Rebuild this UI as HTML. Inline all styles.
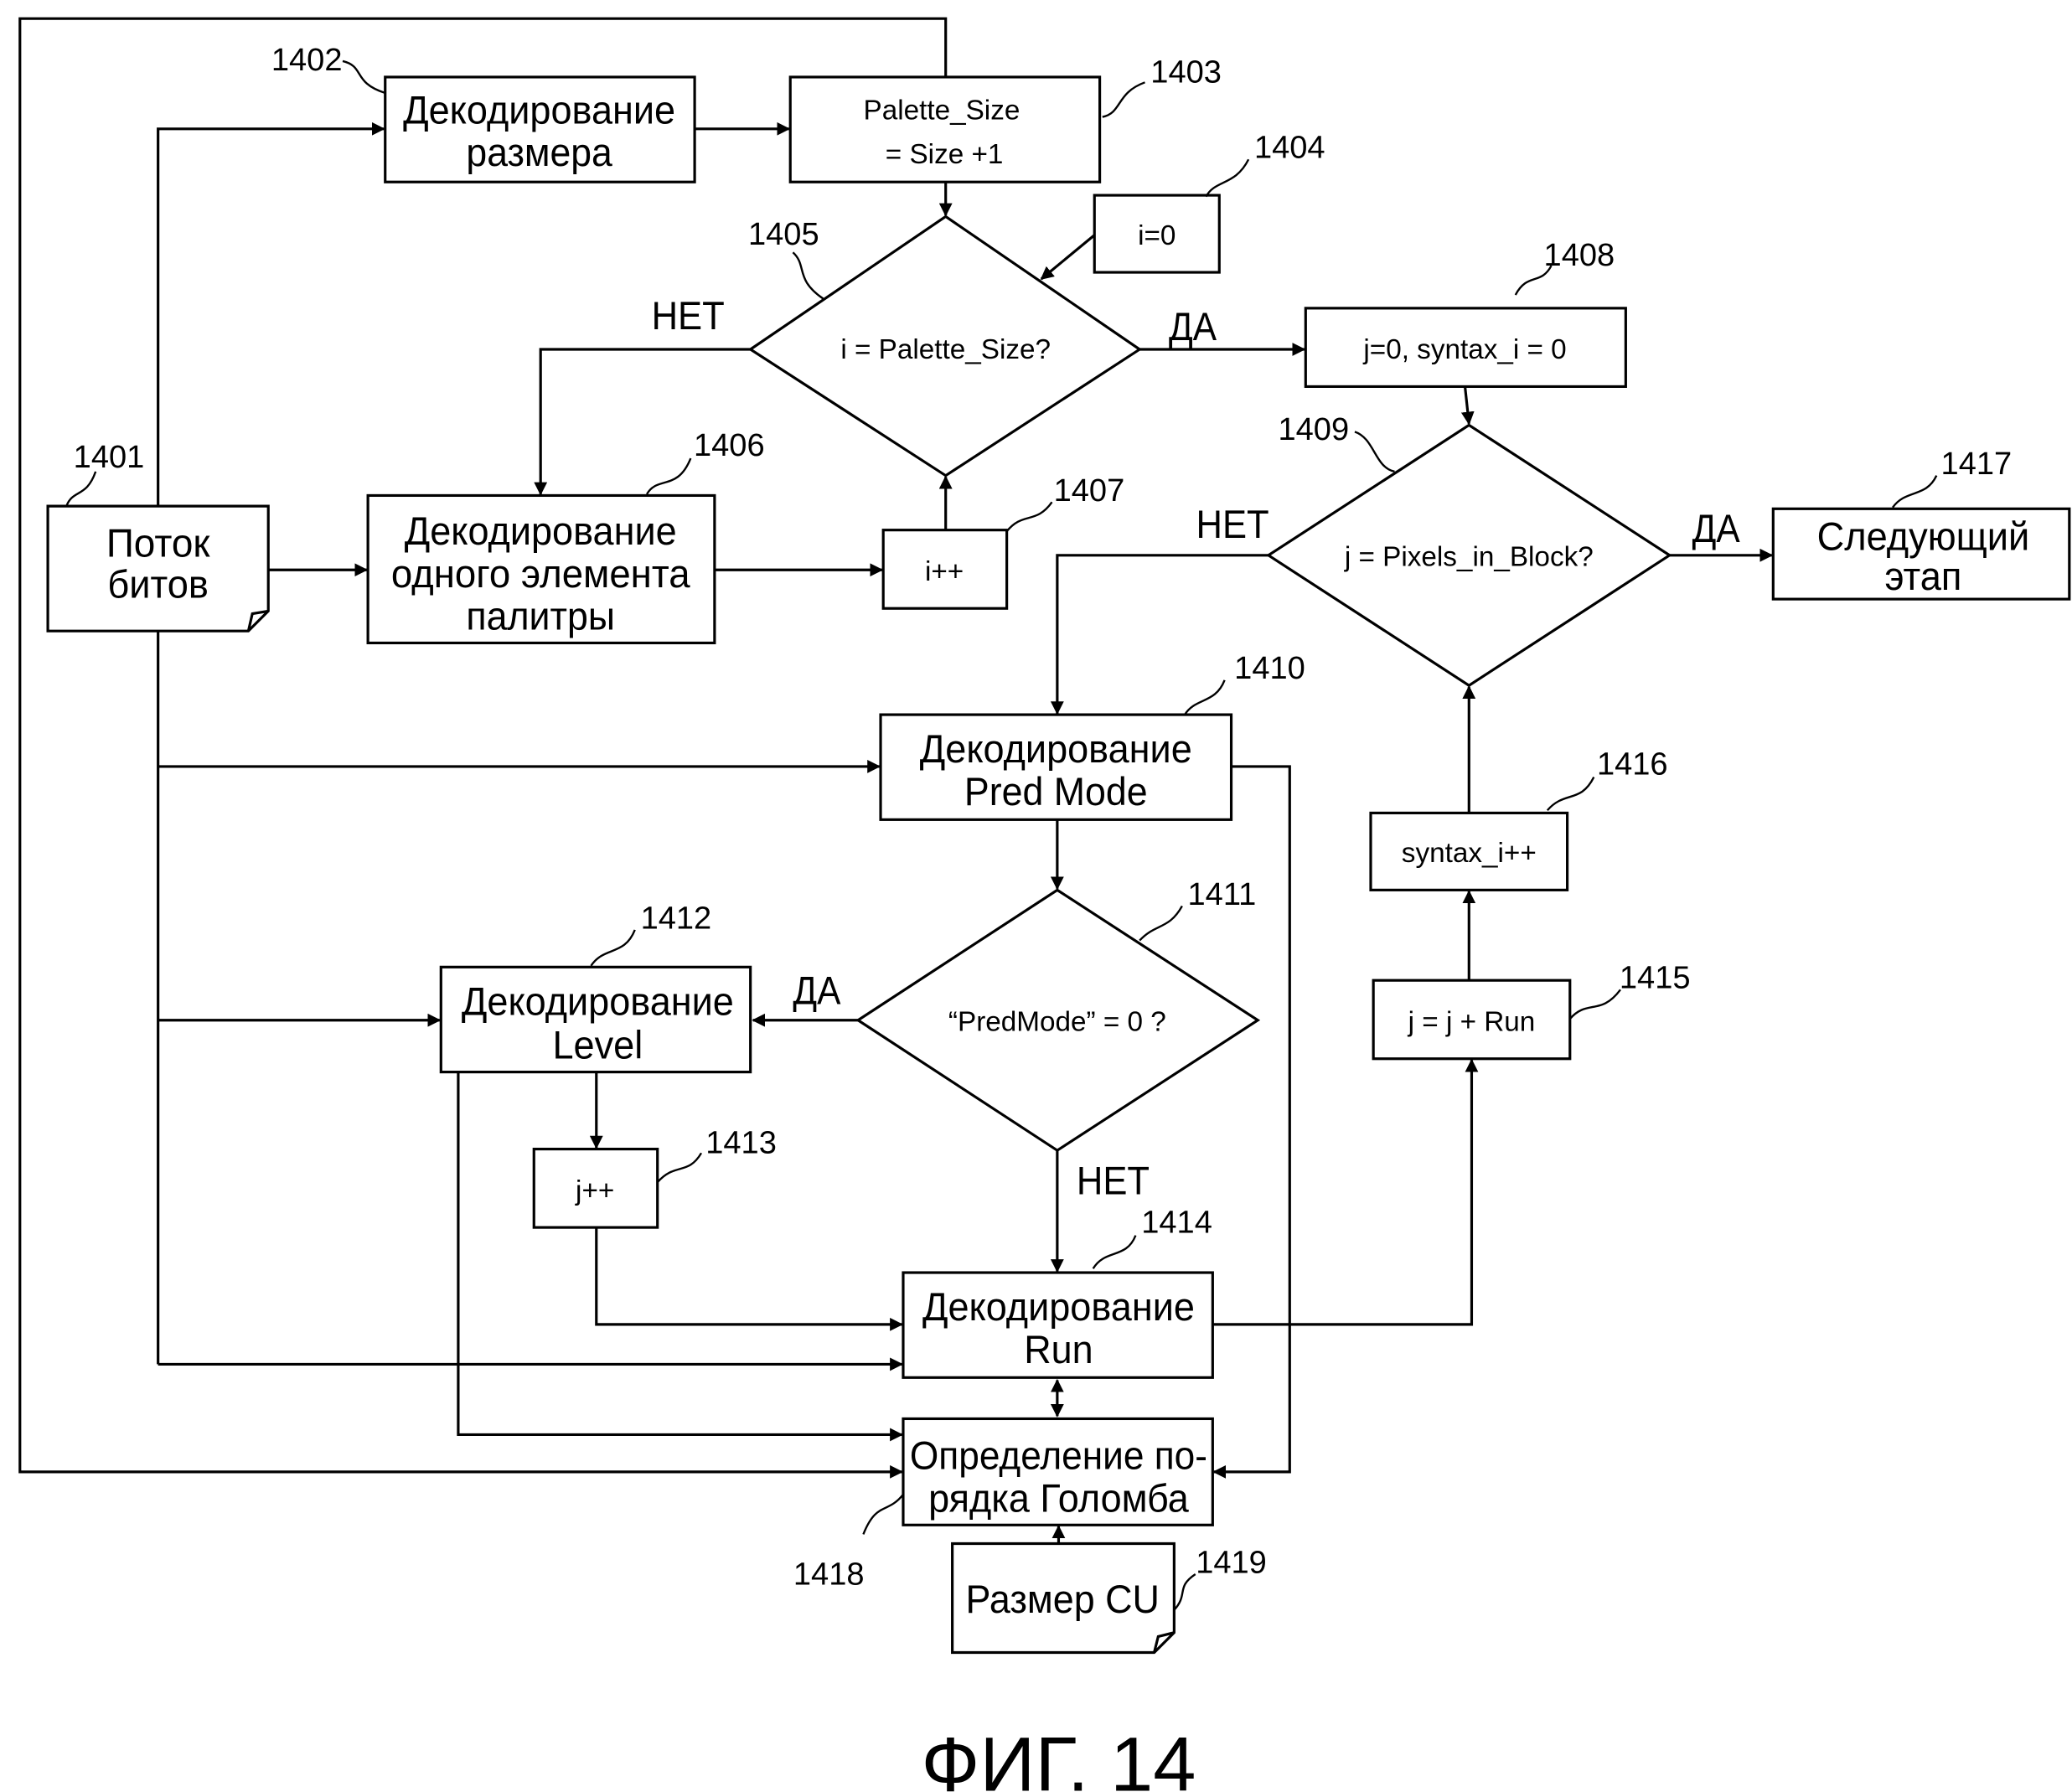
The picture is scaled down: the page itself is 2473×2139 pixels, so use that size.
<!DOCTYPE html>
<html><head><meta charset="utf-8"><style>
html,body{margin:0;padding:0;background:#fff}
svg{display:block}
text{font-family:"Liberation Sans",sans-serif;fill:#000}
.b{font-size:30px}
.s{font-size:21px}
.n{font-size:24px}
</style></head><body>
<svg width="2473" height="2139" viewBox="0 0 1560 1349" preserveAspectRatio="none" xmlns="http://www.w3.org/2000/svg">
<defs><marker id="a" markerWidth="10" markerHeight="10" refX="9" refY="5" orient="auto" markerUnits="userSpaceOnUse"><path d="M0,0 L10,5 L0,10 z" fill="#000"/></marker>
<marker id="a2" markerWidth="10" markerHeight="10" refX="1" refY="5" orient="auto" markerUnits="userSpaceOnUse"><path d="M10,0 L0,5 L10,10 z" fill="#000"/></marker></defs>
<g fill="none" stroke="#000" stroke-width="2">
<polyline points="712,58 712,14 15,14 15,1108 679,1108" marker-end="url(#a)"/>
<rect x="290" y="58" width="233" height="79"/>
<line x1="523" y1="97" x2="594" y2="97" marker-end="url(#a)"/>
<rect x="595" y="58" width="233" height="79"/>
<rect x="824" y="147" width="94" height="58"/>
<line x1="824" y1="177" x2="784" y2="210" marker-end="url(#a)"/>
<line x1="712" y1="137" x2="712" y2="162" marker-end="url(#a)"/>
<polygon points="712,163 858,263 712,358 565,263"/>
<polyline points="565,263 407,263 407,372" marker-end="url(#a)"/>
<line x1="858" y1="263" x2="982" y2="263" marker-end="url(#a)"/>
<rect x="983" y="232" width="241" height="59"/>
<line x1="1103" y1="291" x2="1106" y2="319" marker-end="url(#a)"/>
<polygon points="1106,320 1257,418 1106,516 955,418"/>
<line x1="1257" y1="418" x2="1334" y2="418" marker-end="url(#a)"/>
<rect x="1335" y="383" width="223" height="68"/>
<polyline points="955,418 796,418 796,537" marker-end="url(#a)"/>
<path d="M36,381 H202 V460 L187,475 H36 Z"/>
<path d="M202,460 L190,462 L187,475"/>
<polyline points="119,381 119,97 289,97" marker-end="url(#a)"/>
<line x1="119" y1="475" x2="119" y2="1027"/>
<line x1="119" y1="577" x2="662" y2="577" marker-end="url(#a)"/>
<line x1="119" y1="768" x2="331" y2="768" marker-end="url(#a)"/>
<line x1="119" y1="1027" x2="679" y2="1027" marker-end="url(#a)"/>
<line x1="202" y1="429" x2="276" y2="429" marker-end="url(#a)"/>
<rect x="277" y="373" width="261" height="111"/>
<line x1="538" y1="429" x2="664" y2="429" marker-end="url(#a)"/>
<rect x="665" y="399" width="93" height="59"/>
<line x1="712" y1="399" x2="712" y2="359" marker-end="url(#a)"/>
<rect x="663" y="538" width="264" height="79"/>
<polyline points="927,577 971,577 971,1108 914,1108" marker-end="url(#a)"/>
<line x1="796" y1="617" x2="796" y2="669" marker-end="url(#a)"/>
<polygon points="796,670 947,768 796,866 646,768"/>
<line x1="646" y1="768" x2="567" y2="768" marker-end="url(#a)"/>
<rect x="332" y="728" width="233" height="79"/>
<polyline points="345,807 345,1080 679,1080" marker-end="url(#a)"/>
<line x1="449" y1="807" x2="449" y2="864" marker-end="url(#a)"/>
<rect x="402" y="865" width="93" height="59"/>
<polyline points="449,924 449,997 679,997" marker-end="url(#a)"/>
<line x1="796" y1="866" x2="796" y2="957" marker-end="url(#a)"/>
<rect x="680" y="958" width="233" height="79"/>
<polyline points="913,997 1108,997 1108,798" marker-end="url(#a)"/>
<rect x="1034" y="738" width="148" height="59"/>
<line x1="1106" y1="738" x2="1106" y2="671" marker-end="url(#a)"/>
<rect x="1032" y="612" width="148" height="58"/>
<line x1="1106" y1="612" x2="1106" y2="517" marker-end="url(#a)"/>
<line x1="796" y1="1039" x2="796" y2="1066" marker-end="url(#a)" marker-start="url(#a2)"/>
<rect x="680" y="1068" width="233" height="80"/>
<path d="M717,1162 H884 V1229 L869,1244 H717 Z"/>
<path d="M884,1229 L872,1232 L869,1244"/>
<line x1="797" y1="1162" x2="797" y2="1149" marker-end="url(#a)"/>
<g stroke-width="1.5">
<path d="M258,46 C275,50 265,62 290,70"/>
<path d="M830,88 C845,85 840,70 862,62"/>
<path d="M908,148 C915,135 930,140 940,120"/>
<path d="M597,190 C608,200 598,210 620,225"/>
<path d="M487,372 C495,358 510,370 520,345"/>
<path d="M758,400 C770,385 780,395 792,378"/>
<path d="M1141,222 C1150,205 1160,215 1168,200"/>
<path d="M1020,325 C1035,330 1035,352 1050,355"/>
<path d="M892,538 C900,525 915,530 922,512"/>
<path d="M858,708 C870,695 880,700 890,682"/>
<path d="M445,727 C455,712 470,720 478,700"/>
<path d="M495,890 C508,875 518,885 528,868"/>
<path d="M823,955 C832,940 848,948 855,930"/>
<path d="M1182,767 C1195,752 1205,765 1220,745"/>
<path d="M1165,610 C1178,595 1190,605 1200,585"/>
<path d="M1425,382 C1435,368 1450,375 1458,358"/>
<path d="M680,1125 C668,1140 660,1130 650,1155"/>
<path d="M884,1212 C895,1200 885,1195 900,1185"/>
<path d="M50,381 C55,368 65,375 72,355"/>
</g>
</g>
<g text-anchor="middle">
<text class="b" x="406" y="93" textLength="205" lengthAdjust="spacingAndGlyphs">Декодирование</text>
<text class="b" x="406" y="125" textLength="110" lengthAdjust="spacingAndGlyphs">размера</text>
<text class="s" x="709" y="90">Palette_Size</text>
<text class="s" x="711" y="123">= Size +1</text>
<text class="s" x="871" y="184">i=0</text>
<text class="s" x="712" y="270">i = Palette_Size?</text>
<text class="b" x="518" y="248" textLength="55" lengthAdjust="spacingAndGlyphs">НЕТ</text>
<text class="b" x="898" y="256" textLength="36" lengthAdjust="spacingAndGlyphs">ДА</text>
<text class="s" x="1103" y="270">j=0,  syntax_i = 0</text>
<text class="s" x="1106" y="426">j = Pixels_in_Block?</text>
<text class="b" x="928" y="405" textLength="55" lengthAdjust="spacingAndGlyphs">НЕТ</text>
<text class="b" x="1292" y="408" textLength="36" lengthAdjust="spacingAndGlyphs">ДА</text>
<text class="b" x="1448" y="414" textLength="160" lengthAdjust="spacingAndGlyphs">Следующий</text>
<text class="b" x="1448" y="444" textLength="58" lengthAdjust="spacingAndGlyphs">этап</text>
<text class="b" x="119" y="419" textLength="78" lengthAdjust="spacingAndGlyphs">Поток</text>
<text class="b" x="119" y="450" textLength="76" lengthAdjust="spacingAndGlyphs">битов</text>
<text class="b" x="407" y="410" textLength="205" lengthAdjust="spacingAndGlyphs">Декодирование</text>
<text class="b" x="407" y="442" textLength="225" lengthAdjust="spacingAndGlyphs">одного элемента</text>
<text class="b" x="407" y="474" textLength="112" lengthAdjust="spacingAndGlyphs">палитры</text>
<text class="s" x="711" y="437">i++</text>
<text class="b" x="795" y="574" textLength="205" lengthAdjust="spacingAndGlyphs">Декодирование</text>
<text class="b" x="795" y="606" textLength="138" lengthAdjust="spacingAndGlyphs">Pred Mode</text>
<text class="s" x="796" y="776">“PredMode” = 0 ?</text>
<text class="b" x="615" y="756" textLength="36" lengthAdjust="spacingAndGlyphs">ДА</text>
<text class="b" x="450" y="764" textLength="205" lengthAdjust="spacingAndGlyphs">Декодирование</text>
<text class="b" x="450" y="797" textLength="68" lengthAdjust="spacingAndGlyphs">Level</text>
<text class="s" x="448" y="903">j++</text>
<text class="b" x="838" y="899" textLength="55" lengthAdjust="spacingAndGlyphs">НЕТ</text>
<text class="b" x="797" y="994" textLength="205" lengthAdjust="spacingAndGlyphs">Декодирование</text>
<text class="b" x="797" y="1026" textLength="52" lengthAdjust="spacingAndGlyphs">Run</text>
<text class="s" x="1108" y="776">j = j + Run</text>
<text class="s" x="1106" y="649">syntax_i++</text>
<text class="b" x="797" y="1106" textLength="224" lengthAdjust="spacingAndGlyphs">Определение по-</text>
<text class="b" x="797" y="1138" textLength="196" lengthAdjust="spacingAndGlyphs">рядка Голомба</text>
<text class="b" x="800" y="1214" textLength="146" lengthAdjust="spacingAndGlyphs">Размер CU</text>
<text x="797" y="1348" style="font-size:58px">ФИГ. 14</text>
</g>
<g class="n" text-anchor="middle">
<text class="n" x="231" y="53">1402</text>
<text class="n" x="893" y="62">1403</text>
<text class="n" x="971" y="119">1404</text>
<text class="n" x="590" y="184">1405</text>
<text class="n" x="549" y="343">1406</text>
<text class="n" x="820" y="377">1407</text>
<text class="n" x="1189" y="200">1408</text>
<text class="n" x="989" y="331">1409</text>
<text class="n" x="956" y="511">1410</text>
<text class="n" x="920" y="681">1411</text>
<text class="n" x="509" y="699">1412</text>
<text class="n" x="558" y="868">1413</text>
<text class="n" x="886" y="928">1414</text>
<text class="n" x="1246" y="744">1415</text>
<text class="n" x="1229" y="583">1416</text>
<text class="n" x="1488" y="357">1417</text>
<text class="n" x="624" y="1193">1418</text>
<text class="n" x="927" y="1184">1419</text>
<text class="n" x="82" y="352">1401</text>
</g>
</svg>
</body></html>
